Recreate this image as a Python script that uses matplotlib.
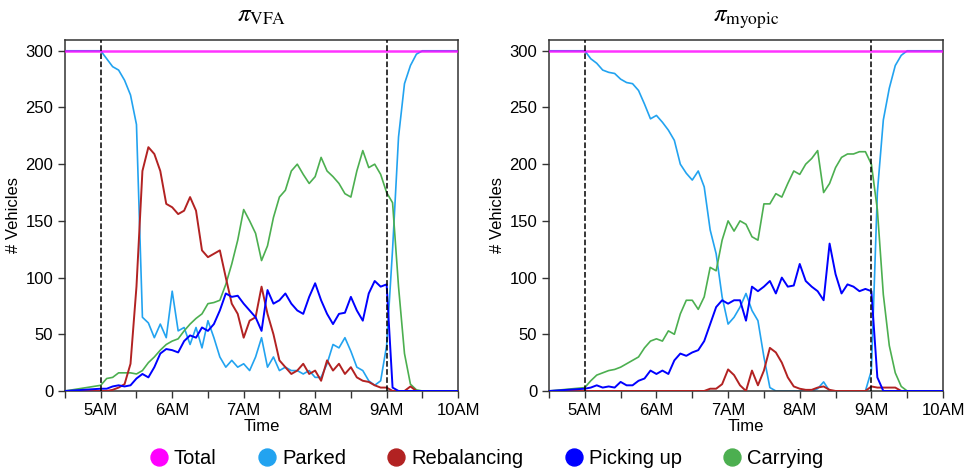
import matplotlib
matplotlib.use("Agg")
import matplotlib.pyplot as plt
from matplotlib.lines import Line2D
import numpy as np

plt.rcParams['font.family'] = ['Liberation Sans', 'DejaVu Sans']
plt.rcParams['mathtext.fontset'] = 'stix'

# minutes after 5AM (sampled every 5 min, padded at both ends)
minutes = [-30] + list(range(0, 275, 5)) + [300]

# --- pi_VFA ---
vfa_parked = [300,
    300, 293, 286, 283, 274, 261, 235, 65, 60, 47,
    59, 47, 88, 53, 56, 41, 56, 38, 62, 47,
    30, 21, 27, 21, 24, 18, 30, 47, 21, 30,
    18, 21, 18, 18, 15, 18, 12, 12, 24, 41,
    38, 47, 35, 21, 18, 9, 5, 9, 40, 125,
    224, 271, 287, 297, 300,
    300]
vfa_rebal = [0,
    0, 0, 1, 3, 6, 24, 92, 194, 215, 209,
    194, 165, 162, 156, 159, 171, 159, 124, 118, 121,
    124, 100, 77, 68, 47, 62, 65, 92, 68, 50,
    27, 21, 15, 18, 24, 15, 18, 9, 27, 18,
    24, 15, 21, 12, 9, 8, 5, 3, 3, 0,
    0, 0, 4, 0, 0,
    0]
vfa_pick = [0,
    2, 2, 4, 5, 4, 5, 11, 15, 12, 21,
    33, 37, 36, 34, 44, 49, 47, 56, 53, 59,
    71, 86, 83, 84, 77, 71, 65, 53, 89, 77,
    80, 86, 77, 71, 68, 83, 95, 80, 68, 59,
    68, 69, 83, 71, 62, 86, 97, 92, 94, 3,
    0, 0, 0, 0, 0,
    0]
vfa_carry = [0,
    5, 11, 12, 16, 16, 16, 15, 18, 25, 30,
    36, 41, 44, 46, 53, 59, 64, 68, 77, 78,
    80, 94, 112, 133, 160, 150, 139, 115, 128, 153,
    171, 177, 194, 200, 191, 183, 189, 206, 194, 189,
    183, 174, 171, 194, 212, 197, 200, 191, 175, 166,
    92, 33, 6, 1, 0,
    0]

# --- pi_myopic ---
myo_parked = [300,
    300, 293, 289, 283, 281, 280, 275, 272, 271, 265,
    253, 240, 243, 237, 230, 221, 200, 192, 186, 194,
    180, 142, 121, 83, 59, 65, 74, 86, 71, 62,
    30, 3, 0, 0, 0, 0, 0, 0, 0, 2,
    8, 0, 0, 0, 0, 0, 0, 0, 18, 175,
    239, 267, 287, 296, 300,
    300]
myo_rebal = [0,
    0, 0, 0, 0, 0, 0, 0, 0, 0, 0,
    0, 0, 0, 0, 0, 0, 0, 0, 0, 0,
    0, 2, 2, 6, 19, 14, 5, 0, 18, 5,
    18, 38, 34, 25, 12, 4, 2, 1, 1, 3,
    4, 1, 0, 0, 0, 0, 0, 0, 4, 3,
    3, 3, 3, 0, 0,
    0]
myo_pick = [0,
    2, 3, 5, 3, 4, 3, 8, 5, 5, 9,
    11, 18, 15, 18, 15, 27, 33, 31, 34, 36,
    44, 59, 74, 80, 77, 80, 80, 62, 92, 88,
    92, 97, 86, 100, 92, 93, 112, 97, 92, 88,
    80, 130, 103, 86, 94, 92, 88, 90, 88, 12,
    0, 0, 0, 0, 0,
    0]
myo_carry = [0,
    3, 9, 14, 16, 18, 19, 21, 24, 27, 30,
    38, 44, 46, 44, 53, 50, 68, 80, 80, 72,
    83, 109, 106, 133, 150, 141, 150, 147, 136, 133,
    165, 165, 174, 171, 183, 194, 191, 200, 205, 212,
    175, 183, 197, 206, 209, 209, 211, 211, 200, 160,
    85, 40, 16, 4, 0,
    0]

fleet = 300
names = ["Total", "Parked", "Rebalancing", "Picking up", "Carrying"]
colors = ["#ff00ff", "#22a3f0", "#b22222", "#0000ff", "#4caf50"]

hours = 5 + np.array(minutes) / 60.

fig = plt.figure(figsize=(9.73, 4.73), dpi=100)
ax1 = fig.add_axes([0.0668, 0.1734, 0.4040, 0.7420])
ax2 = fig.add_axes([0.5642, 0.1734, 0.4050, 0.7420])

panels = [(ax1, r'$\pi_{\mathrm{VFA}}$', vfa_parked, vfa_rebal, vfa_pick, vfa_carry),
          (ax2, r'$\pi_{\mathrm{myopic}}$', myo_parked, myo_rebal, myo_pick, myo_carry)]

for ax, title, parked, rebal, pick, carry in panels:
    ax.plot(hours, parked, color=colors[1], lw=1.2, zorder=2)
    ax.plot(hours, carry, color=colors[4], lw=1.2, zorder=3)
    ax.plot(hours, rebal, color=colors[2], lw=1.4, zorder=4)
    ax.plot(hours, pick, color=colors[3], lw=1.4, zorder=5)
    ax.plot([4.5, 10], [fleet, fleet], color=colors[0], lw=1.8, alpha=0.8, zorder=6)
    ax.axvline(5, color='black', ls='--', lw=1.1, zorder=7)
    ax.axvline(9, color='black', ls='--', lw=1.1, zorder=7)
    ax.set_xlim(4.5, 10)
    ax.set_ylim(0, 309.5)
    ax.set_xticks([5, 6, 7, 8, 9, 10])
    ax.set_xticklabels(["5AM", "6AM", "7AM", "8AM", "9AM", "10AM"])
    ax.set_xticks(np.arange(4.5, 10, 1.0), minor=True)
    ax.set_yticks(range(0, 301, 50))
    ax.tick_params(which='both', direction='out', length=5, width=1, labelsize=12,
                   color='#333333', top=False, right=False)
    for sp in ax.spines.values():
        sp.set_color('#333333')
        sp.set_linewidth(1.1)
    ax.set_xlabel("Time", fontsize=12, labelpad=1)
    ax.set_ylabel("# Vehicles", fontsize=12, labelpad=3)
    ax.set_title(title, fontsize=18, pad=13)

handles = [Line2D([], [], marker='o', ls='none', ms=12.2, color=c, mec=c) for c in colors]
fig.legend(handles, names, loc='center', bbox_to_anchor=(0.497, 0.0296), ncol=5,
           frameon=False, fontsize=14.5, handlelength=1.5, handletextpad=0.0,
           columnspacing=1.75)

fig.savefig("out.png", dpi=100)
